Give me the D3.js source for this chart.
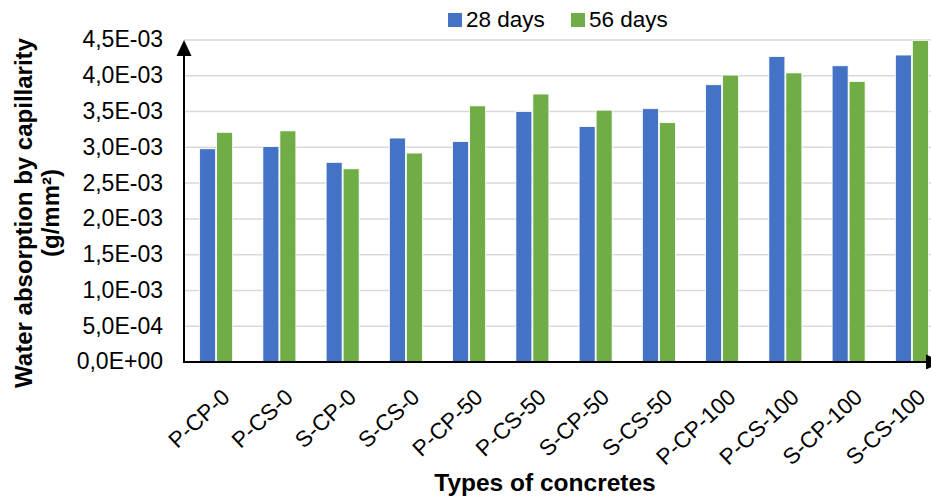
<!DOCTYPE html>
<html>
<head>
<meta charset="utf-8">
<script src="https://cdn.jsdelivr.net/npm/d3@7"></script>
<style>
  html, body { margin: 0; padding: 0; background: #fff; }
  svg { display: block; font-family: "Liberation Sans", Arial, sans-serif; }
</style>
</head>
<body>
<svg id="chart" width="931" height="497"></svg>
<script>
// Capillary water absorption per concrete type, at 28 and 56 days
const categories = ["P-CP-0", "P-CS-0", "S-CP-0", "S-CS-0", "P-CP-50", "P-CS-50",
                    "S-CP-50", "S-CS-50", "P-CP-100", "P-CS-100", "S-CP-100", "S-CS-100"];
const days28 = [2.98e-3, 3.01e-3, 2.79e-3, 3.13e-3, 3.08e-3, 3.50e-3,
                3.29e-3, 3.54e-3, 3.875e-3, 4.27e-3, 4.14e-3, 4.29e-3];
const days56 = [3.21e-3, 3.23e-3, 2.70e-3, 2.92e-3, 3.58e-3, 3.745e-3,
                3.52e-3, 3.345e-3, 4.01e-3, 4.04e-3, 3.92e-3, 4.495e-3];
const seriesNames = ["28 days", "56 days"];
const yTickValues = [0, 5e-4, 1e-3, 1.5e-3, 2e-3, 2.5e-3, 3e-3, 3.5e-3, 4e-3, 4.5e-3];
const yTickLabels = ["0,0E+00", "5,0E-04", "1,0E-03", "1,5E-03", "2,0E-03",
                     "2,5E-03", "3,0E-03", "3,5E-03", "4,0E-03", "4,5E-03"];

const colors = ["#4472C4", "#70AD47"];
const svg = d3.select("#chart");

const plotLeft = 184, plotBottom = 362, plotTop = 40, plotRight = 931;
const x = d3.scaleBand().domain(categories).range([184.6, 943.6]).padding(0);
const y = d3.scaleLinear().domain([0, 4.5e-3]).range([plotBottom, plotTop]);

// Horizontal gridlines
svg.append("g").selectAll("line")
  .data(yTickValues.filter(v => v > 0))
  .join("line")
  .attr("x1", plotLeft).attr("x2", plotRight)
  .attr("y1", d => y(d)).attr("y2", d => y(d))
  .attr("stroke", "#d9d9d9").attr("stroke-width", 1.5);

// Y tick labels
const yLabels = d3.axisLeft(y).tickValues(yTickValues)
  .tickFormat((d, i) => yTickLabels[i]).tickSize(0).tickPadding(0);
const yAxisG = svg.append("g").attr("transform", "translate(163,0)").call(yLabels);
yAxisG.select(".domain").remove();
yAxisG.selectAll("text")
  .attr("font-size", 23).attr("fill", "#000")
  .attr("font-family", "Liberation Sans, Arial, sans-serif")
  .attr("dy", "0.3em");

// Bars
const bw = 16;
const offsets = [-16.6, 0.4];
[days28, days56].forEach((vals, s) => {
  svg.append("g").selectAll("rect")
    .data(vals)
    .join("rect")
    .attr("x", (d, i) => x(categories[i]) + x.bandwidth() / 2 + offsets[s])
    .attr("width", bw)
    .attr("y", d => y(d))
    .attr("height", d => y(0) - y(d))
    .attr("fill", colors[s])
    .attr("stroke", "#ffffff").attr("stroke-width", 0.8);
});

// Axis lines with arrowheads
svg.append("line").attr("x1", plotLeft).attr("x2", plotLeft).attr("y1", plotBottom).attr("y2", plotTop + 8)
  .attr("stroke", "#000").attr("stroke-width", 2);
svg.append("path")
  .attr("d", `M${plotLeft},${plotTop} L${plotLeft - 7.5},${plotTop + 16} L${plotLeft + 7.5},${plotTop + 16} Z`)
  .attr("fill", "#000");
svg.append("line").attr("x1", plotLeft - 1).attr("x2", 935).attr("y1", plotBottom).attr("y2", plotBottom)
  .attr("stroke", "#000").attr("stroke-width", 2);
svg.append("path")
  .attr("d", `M942,${plotBottom} L926,${plotBottom - 7.5} L926,${plotBottom + 7.5} Z`)
  .attr("fill", "#000");

// Rotated category labels
svg.append("g").selectAll("text")
  .data(categories)
  .join("text")
  .attr("transform", d => `translate(${x(d) + x.bandwidth() / 2 + 4},387) rotate(-43)`)
  .attr("text-anchor", "end")
  .attr("dy", "0.72em")
  .attr("font-size", 22.5)
  .attr("fill", "#000")
  .text(d => d);

// Axis titles
svg.append("text")
  .attr("x", 545).attr("y", 491)
  .attr("text-anchor", "middle")
  .attr("font-size", 24.5).attr("font-weight", "bold")
  .text("Types of concretes");

const yTitle = svg.append("text")
  .attr("transform", "translate(32,213) rotate(-90)")
  .attr("text-anchor", "middle")
  .attr("font-size", 24).attr("font-weight", "bold");
yTitle.append("tspan").attr("x", 0).attr("y", 0).text("Water absorption by capillarity");
yTitle.append("tspan").attr("x", 0).attr("y", 27).text("(g/mm²)");

// Legend
const legendX = [448, 571];
seriesNames.forEach((name, i) => {
  svg.append("rect").attr("x", legendX[i]).attr("y", 13).attr("width", 14).attr("height", 14)
    .attr("fill", colors[i]);
  svg.append("text").attr("x", legendX[i] + 18).attr("y", 27)
    .attr("font-size", 22.5).attr("fill", "#000").text(name);
});
</script>
</body>
</html>
